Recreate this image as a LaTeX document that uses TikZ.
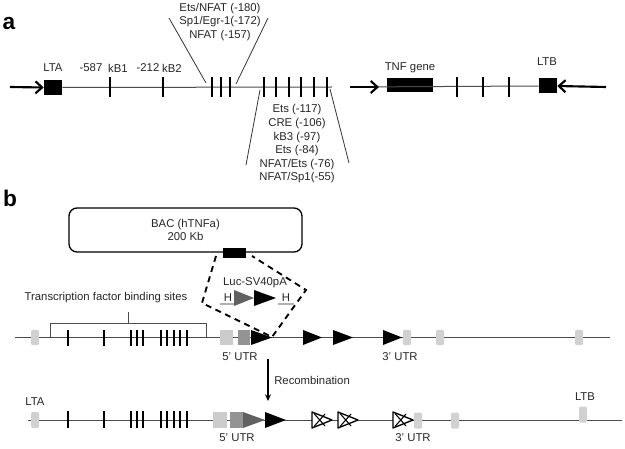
\documentclass[tikz,border=0pt]{standalone}
\usepackage{fontspec}
\setmainfont{Liberation Sans}
\usetikzlibrary{arrows.meta}
\begin{document}
\begin{tikzpicture}[x=0.75pt,y=-0.75pt,
  txt/.style={font=\fontsize{8.5}{10.2}\selectfont, text=black!85, inner sep=0pt, align=center},
  panellbl/.style={font=\fontsize{17}{17}\selectfont\bfseries, inner sep=0pt},
  dna/.style={draw=black!70, line width=0.75pt},
  fanline/.style={draw=black!80, line width=0.6pt},
  bigtick/.style={fill=black, inner sep=0pt, minimum width=1.9pt, minimum height=15pt},
  rowtick/.style={fill=black, inner sep=0pt, minimum width=1.9pt, minimum height=12pt},
  genebox/.style={fill=black, inner sep=0pt},
  lgbox/.style={fill=black!18, rounded corners=1pt, inner sep=0pt, minimum width=6pt, minimum height=11.5pt},
  utrlight/.style={fill=black!20, inner sep=0pt, minimum height=11.5pt},
  utrdark/.style={fill=black!42, inner sep=0pt, minimum height=11.5pt},
  bigarrow/.style={line width=1.6pt, -{Straight Barb[length=5pt,width=9pt]}},
  dashline/.style={line width=1.4pt, dash pattern=on 4.5pt off 3.5pt},
  hbox/.style={txt, fill=white, minimum width=12pt, minimum height=9pt}
]
\useasboundingbox (0,0) rectangle (625,449);

% ---------------- panel a ----------------
\node[panellbl] (pa) at (9,24) {a};

\node[genebox, minimum width=13.5pt, minimum height=11.25pt] (lta) at (53,87.5) {};
\node[genebox, minimum width=34.5pt, minimum height=10.5pt] (tnf) at (410,85.5) {};
\node[genebox, minimum width=13.5pt, minimum height=11.25pt] (ltb) at (548,86) {};

\coordinate (gapL) at (332,87);
\coordinate (a1s) at (10,87);
\coordinate (a2s) at (350,87);
\coordinate (a2e) at (379,87);
\coordinate (a3s) at (606,87);

\draw[dna] (lta.east) -- (gapL);
\draw[dna] (a2s) -- (ltb.west);
\draw[bigarrow] (a1s) -- (lta.west);
\draw[bigarrow] (a2s) -- (a2e);
\draw[bigarrow] (a3s) -- (ltb.east);

\foreach \x [count=\i] in {110,163,212,221,230,264,276,289,301,314,327}
  \node[bigtick] (ta\i) at (\x,87) {};
\foreach \x [count=\i] in {457,483,509}
  \node[bigtick] (tb\i) at (\x,87) {};

\node[txt] (ltalbl) at (53,68) {LTA};
\node[txt] (m587) at (91,68) {-587};
\node[txt] (kb1) at (118,68) {kB1};
\node[txt] (m212) at (148,68) {-212};
\node[txt] (kb2) at (172,68) {kB2};
\node[txt] (tnflbl) at (410,68) {TNF gene};
\node[txt] (ltblbl) at (547,62) {LTB};

\node[txt] (uplbl) at (220,22) {Ets/NFAT (-180)\\Sp1/Egr-1(-172)\\NFAT (-157)};
\node[txt] (lolbl) at (297,144) {Ets (-117)\\CRE (-106)\\kB3 (-97)\\Ets (-84)\\NFAT/Ets (-76)\\NFAT/Sp1(-55)};

\coordinate (fu1) at (169,18);
\coordinate (fu2) at (206,83);
\coordinate (fu3) at (268,18);
\coordinate (fu4) at (236,84);
\coordinate (fl1) at (260,90);
\coordinate (fl2) at (246,165);
\coordinate (fl3) at (330,89);
\coordinate (fl4) at (349,163);
\draw[fanline] (fu1) -- (fu2);
\draw[fanline] (fu3) -- (fu4);
\draw[fanline] (fl1) -- (fl2);
\draw[fanline] (fl3) -- (fl4);

% ---------------- panel b ----------------
\node[panellbl] (pb) at (10,198) {b};

\node[draw=black, line width=1pt, rounded corners=6pt, minimum width=174.75pt, minimum height=33pt, txt, text=black!85] (bac) at (185.5,230) {BAC (hTNFa)\\200 Kb};
\node[genebox, minimum width=17.25pt, minimum height=7.5pt] (bacins) at (234.5,253) {};

% row 1
\coordinate (r1s) at (15,337);
\coordinate (r1e) at (610,337);
\draw[dna] (r1s) -- (r1e);

\foreach \x [count=\i] in {35,407,440,579}
  \node[lgbox] (g1\i) at (\x,337.5) {};

\coordinate (brL) at (50,337);
\coordinate (brR) at (206,337);
\coordinate (brM) at (128,323);
\coordinate (brT) at (128,312);
\draw[dna] (brL) -- (50,323) -- (206,323) -- (brR);
\draw[dna] (brM) -- (brT);
\node[txt] (tfbs) at (106,298) {Transcription factor binding sites};

\foreach \x [count=\i] in {68,104,131,137,143,161,167,174,180,187}
  \node[rowtick] (t1\i) at (\x,337.5) {};

\node[utrlight, minimum width=9.75pt] (u1l) at (226.5,337.5) {};
\node[utrdark, minimum width=9pt] (u1d) at (244,337.5) {};

\fill[black] (251,330) -- (272,337.5) -- (251,345) -- cycle;
\fill[black] (303,330) -- (322,337.5) -- (303,345) -- cycle;
\fill[black] (333,330) -- (353,337.5) -- (333,345) -- cycle;
\fill[black] (383,330) -- (402,337.5) -- (383,345) -- cycle;
\coordinate (tip1) at (272,337);

\node[txt] (utr5a) at (240,357) {5' UTR};
\node[txt] (utr3a) at (400,357) {3' UTR};

% insert / dashed outline
\coordinate (d1) at (216,256);
\coordinate (d2) at (202,303);
\coordinate (d3) at (306,290);
\coordinate (d4) at (252,256);
\draw[dashline] (d1) -- (d2) -- (tip1) -- (d3) -- (d4);

\node[txt] (luc) at (255,283) {Luc-SV40pA};
\node[hbox] (h1) at (228,298) {H};
\node[hbox] (h2) at (286,298) {H};
\draw[black!30, line width=1.2pt] (h1.south west) -- (h1.south east);
\draw[black!30, line width=1.2pt] (h2.south west) -- (h2.south east);
\fill[black!62] (234,290) -- (254,298) -- (234,306) -- cycle;
\fill[black] (254,290) -- (276,298) -- (254,306) -- cycle;

% recombination arrow
\coordinate (recTop) at (268,359);
\coordinate (recBot) at (268,401);
\draw[line width=0.9pt, -{Stealth[length=5pt,width=4.5pt]}] (recTop) -- (recBot);
\node[txt, anchor=west] (reclbl) at (274,380) {Recombination};

% row 2
\coordinate (r2s) at (28,420);
\coordinate (r2e) at (622,420);
\draw[dna] (r2s) -- (r2e);

\node[lgbox, minimum height=12pt] (g21) at (35,420) {};
\node[lgbox, minimum height=12pt] (g22) at (418,420.5) {};
\node[lgbox, minimum height=12pt] (g23) at (455,420.5) {};
\node[lgbox, minimum height=12pt] (g24) at (583,414.5) {};

\node[txt] (lta2) at (35,402) {LTA};
\node[txt] (ltb2) at (585,397) {LTB};

\foreach \x [count=\i] in {68,104,131,137,143,161,167,174,180,187}
  \node[rowtick, minimum height=12.75pt] (t2\i) at (\x,419.5) {};

\node[utrlight, minimum width=10.5pt, minimum height=12pt] (u2l) at (220,420) {};
\node[utrdark, minimum width=9.75pt, minimum height=12pt] (u2d) at (236.5,420) {};
\fill[black!62] (243,412) -- (265,420) -- (243,428) -- cycle;
\fill[black] (265,412) -- (286,420) -- (265,428) -- cycle;

\foreach \a in {312,338,393} {
  \draw[black, line width=1pt, fill=white, line join=round] (\a,412) -- (\a+20,420) -- (\a,428) -- cycle;
  \draw[black, line width=0.8pt] (\a+2,413.5) -- (\a+13,426) (\a+2,426.5) -- (\a+13,414);
}

\node[txt] (utr5b) at (237,438) {5' UTR};
\node[txt] (utr3b) at (413,438) {3' UTR};
\end{tikzpicture}
\end{document}
